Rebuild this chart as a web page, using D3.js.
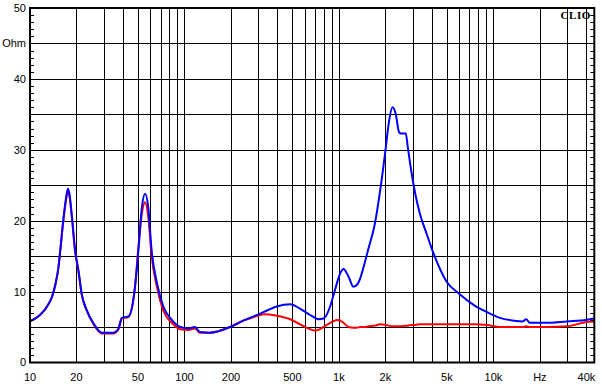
<!DOCTYPE html>
<html><head><meta charset="utf-8">
<script src="https://cdn.jsdelivr.net/npm/d3@7"></script>
<style>
body{margin:0;background:#fff}
svg{display:block}
</style></head>
<body><svg id="c" width="602" height="388"></svg>
<script>
// Frequency (Hz)
const freqs = [10,11.6,12.9,13.9,14.6,15.3,15.7,16.5,17.2,17.6,18.0,18.7,19.6,20.6,21.6,23.3,25.8,29.2,34.6,37.4,39.3,43.4,47.9,50.3,53.0,55.6,58.3,61.3,66.4,73,82.8,93.9,106,117,126,146,197,240,265,309,324,396,484,559,650,700,737,794,877,917,971,1020,1070,1155,1240,1300,1370,1450,1550,1710,1850,2000,2100,2220,2330,2450,2520,2710,2790,2960,3120,3340,3690,4000,4980,6000,7480,9100,11000,13600,15500,16300,17200,22000,30000,40000,45000];
// Impedance (Ohm), blue curve
const blueValues = [5.8,6.7,7.9,9.3,11.0,13.5,15.8,20.5,23.5,24.5,23.8,20.5,15.8,13.0,9.7,7.4,5.5,4.2,4.2,4.8,6.3,6.5,10.7,15.8,21.9,23.8,21.9,15.8,11.2,7.9,6.0,5.0,4.8,5.0,4.3,4.2,5.0,5.9,6.3,6.9,7.1,7.9,8.2,7.6,6.7,6.3,6.1,6.2,7.9,9.3,11.2,12.6,13.2,12.1,10.7,10.9,11.8,13.6,16.0,19.6,24.3,29.9,33.7,36.0,35.1,32.5,32.3,32.3,30.4,26.6,23.8,21.0,18.2,16.0,11.4,9.7,8.1,7.1,6.3,5.9,5.8,6.1,5.6,5.6,5.8,6.0,6.2];
// Impedance (Ohm), red curve
const redValues = [5.8,6.7,7.9,9.3,11.0,13.5,15.8,20.3,23.2,24.2,23.5,20.3,15.6,12.8,9.6,7.3,5.4,4.1,4.1,4.7,6.2,6.4,10.9,16.2,21.0,22.6,20.5,15.0,10.6,7.3,5.6,4.7,4.6,4.8,4.2,4.2,5.0,5.9,6.2,6.7,6.8,6.6,6.1,5.4,4.7,4.5,4.6,5.0,5.6,5.8,6.0,5.9,5.6,5.0,4.9,4.9,5.0,5.0,5.1,5.2,5.4,5.3,5.2,5.1,5.1,5.1,5.1,5.2,5.2,5.3,5.3,5.4,5.4,5.4,5.4,5.4,5.4,5.3,5.0,5.0,5.0,5.1,5.0,5.0,5.1,5.7,5.8];

const yTickValues = [0,10,20,30,40,50];
const yTickLabels = ["0","10","20","30","40","50"];
const yUnitValue = 45, yUnitLabel = "Ohm";
const xTickValues = [10,20,50,100,200,500,1000,2000,5000,10000,20000,40000];
const xTickLabels = ["10","20","50","100","200","500","1k","2k","5k","10k","Hz","40k"];

const svg = d3.select("#c");
const sans = "'Liberation Sans', Arial, sans-serif";
const L = 30, R = 594.3, T = 8, B = 362.5;
const x = d3.scaleLog().domain([10, 45000]).range([L, R]);
const y = d3.scaleLinear().domain([0, 50]).range([B, T]);

svg.append("rect").attr("width",602).attr("height",388).attr("fill","#fff");

// vertical grid
svg.append("g").selectAll("line").data(x.ticks()).join("line")
  .attr("x1", d => Math.round(x(d)) + 0.5).attr("x2", d => Math.round(x(d)) + 0.5)
  .attr("y1", T).attr("y2", B).attr("stroke", "#000").attr("stroke-width", 1);
// horizontal grid
svg.append("g").selectAll("line").data(d3.range(5, 50, 5)).join("line")
  .attr("x1", L).attr("x2", R)
  .attr("y1", d => Math.round(y(d)) + 0.5).attr("y2", d => Math.round(y(d)) + 0.5)
  .attr("stroke", "#000").attr("stroke-width", 1);

svg.append("clipPath").attr("id","clip").append("rect")
  .attr("x", L).attr("y", T).attr("width", R - L).attr("height", B - T);

const line = d3.line().x(d => x(d[0])).y(d => y(d[1])).curve(d3.curveMonotoneX);
const redData = freqs.map((f,i) => [f, redValues[i]]);
const blueData = freqs.map((f,i) => [f, blueValues[i]]);
svg.append("path").datum(redData).attr("d", line).attr("fill","none")
  .attr("stroke","#ff0000").attr("stroke-width",2).attr("clip-path","url(#clip)");
svg.append("path").datum(blueData).attr("d", line).attr("fill","none")
  .attr("stroke","#0000ff").attr("stroke-width",2).attr("clip-path","url(#clip)");

// frame
svg.append("rect").attr("x", L).attr("y", T).attr("width", R - L).attr("height", B - T)
  .attr("fill","none").attr("stroke","#000").attr("stroke-width",2);

// minor ticks left and right
const minor = d3.range(1, 50);
svg.append("g").selectAll("line").data(minor).join("line")
  .attr("x1", L).attr("x2", L + 4)
  .attr("y1", d => Math.round(y(d)) + 0.5).attr("y2", d => Math.round(y(d)) + 0.5)
  .attr("stroke","#000");
svg.append("g").selectAll("line").data(minor).join("line")
  .attr("x1", R - 4).attr("x2", R)
  .attr("y1", d => Math.round(y(d)) + 0.5).attr("y2", d => Math.round(y(d)) + 0.5)
  .attr("stroke","#000");

// y labels
svg.append("g").selectAll("text").data(yTickValues).join("text")
  .attr("x", 26).attr("y", d => y(d)).attr("dy", "0.36em")
  .attr("text-anchor","end").style("font-family", sans).style("font-size","11px").attr("fill","#000")
  .text((d,i) => yTickLabels[i]);
svg.append("text").attr("x", 26).attr("y", y(yUnitValue)).attr("dy","0.36em")
  .attr("text-anchor","end").style("font-family", sans).style("font-size","11px").attr("fill","#000").text(yUnitLabel);

// x labels
svg.append("g").selectAll("text").data(xTickValues).join("text")
  .attr("x", d => x(d)).attr("y", 381)
  .attr("text-anchor","middle").style("font-family", sans).style("font-size","11px").attr("fill","#000")
  .text((d,i) => xTickLabels[i]);

// CLIO badge
svg.append("text").attr("x", 591).attr("y", 18.5).attr("text-anchor","end")
  .style("font-family","'Liberation Serif','Times New Roman',serif").style("font-weight","bold")
  .style("font-size","11px").style("letter-spacing","0.6px").attr("fill","#000").text("CLIO");
</script>
</body></html>
